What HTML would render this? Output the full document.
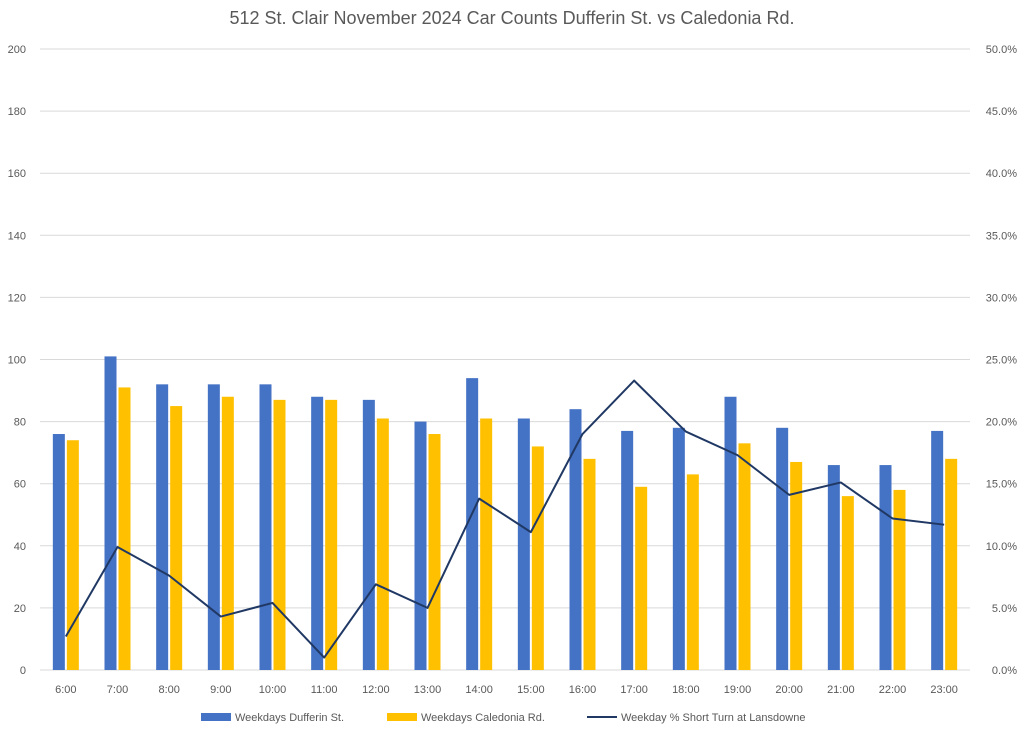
<!DOCTYPE html>
<html><head><meta charset="utf-8"><style>
body{margin:0;background:#fff;font-family:"Liberation Sans",sans-serif;}
</style></head><body>
<svg id="chart" width="1024" height="732" xmlns="http://www.w3.org/2000/svg" font-family="Liberation Sans, sans-serif">
<text x="512" y="24" text-anchor="middle" font-size="18" fill="#595959">512 St. Clair November 2024 Car Counts Dufferin St. vs Caledonia Rd.</text>
<g id="grid"></g><g id="bars"></g><g id="line"></g><g id="labels"></g>
<g>
<rect x="201" y="713" width="30" height="8" fill="#4472C4"/>
<text x="235" y="721" font-size="11" fill="#595959">Weekdays Dufferin St.</text>
<rect x="387" y="713" width="30" height="8" fill="#FFC000"/>
<text x="421" y="721" font-size="11" fill="#595959">Weekdays Caledonia Rd.</text>
<line x1="587" y1="717" x2="617" y2="717" stroke="#203864" stroke-width="2"/>
<text x="621" y="721" font-size="11" fill="#595959">Weekday % Short Turn at Lansdowne</text>
</g>
</svg>
<script>
const categories=["6:00","7:00","8:00","9:00","10:00","11:00","12:00","13:00","14:00","15:00","16:00","17:00","18:00","19:00","20:00","21:00","22:00","23:00"];
const dufferin=[76,101,92,92,92,88,87,80,94,81,84,77,78,88,78,66,66,77];
const caledonia=[74,91,85,88,87,87,81,76,81,72,68,59,63,73,67,56,58,68];
const shortTurnPct=[2.7,9.9,7.6,4.3,5.4,1.0,6.9,5.0,13.8,11.1,19.0,23.3,19.2,17.3,14.1,15.1,12.2,11.7];
const leftTicks=[0,20,40,60,80,100,120,140,160,180,200];
const rightTicks=[0,5,10,15,20,25,30,35,40,45,50];
const NS="http://www.w3.org/2000/svg";
const x0=40,x1=970,yB=670,yT=49;
const step=(x1-x0)/categories.length;
const xc=i=>x0+step*(i+0.5);
const yL=v=>yB-(v/200)*(yB-yT);
const yR=v=>yB-(v/50)*(yB-yT);
function mk(tag,attrs,parent){const e=document.createElementNS(NS,tag);for(const k in attrs)e.setAttribute(k,attrs[k]);document.getElementById(parent).appendChild(e);return e;}
leftTicks.forEach((t,i)=>{
  const l=mk("line",{x1:x0,x2:x1,y1:yL(t),y2:yL(t),stroke:"#D9D9D9","stroke-width":1},"grid");
  
  
  const a=mk("text",{x:26,y:yL(t)+4,"text-anchor":"end","font-size":11,fill:"#595959"},"labels");
  a.textContent=t;
  
  
  const b=mk("text",{x:1017,y:yR(rightTicks[i])+4,"text-anchor":"end","font-size":11,fill:"#595959"},"labels");
  b.textContent=rightTicks[i].toFixed(1)+"%";
  
  
});
categories.forEach((c,i)=>{
  const b1=mk("rect",{x:xc(i)-13,y:yL(dufferin[i]),width:12,height:yB-yL(dufferin[i]),fill:"#4472C4"},"bars");
  
  
  const b2=mk("rect",{x:xc(i)+1,y:yL(caledonia[i]),width:12,height:yB-yL(caledonia[i]),fill:"#FFC000"},"bars");
  
  
  const t=mk("text",{x:xc(i),y:693,"text-anchor":"middle","font-size":11,fill:"#595959"},"labels");
  t.textContent=c;
  
  
});
const pl=mk("polyline",{points:shortTurnPct.map((v,i)=>xc(i)+","+yR(v)).join(" "),fill:"none",stroke:"#203864","stroke-width":2,"stroke-linejoin":"round"},"line");


</script>
</body></html>
